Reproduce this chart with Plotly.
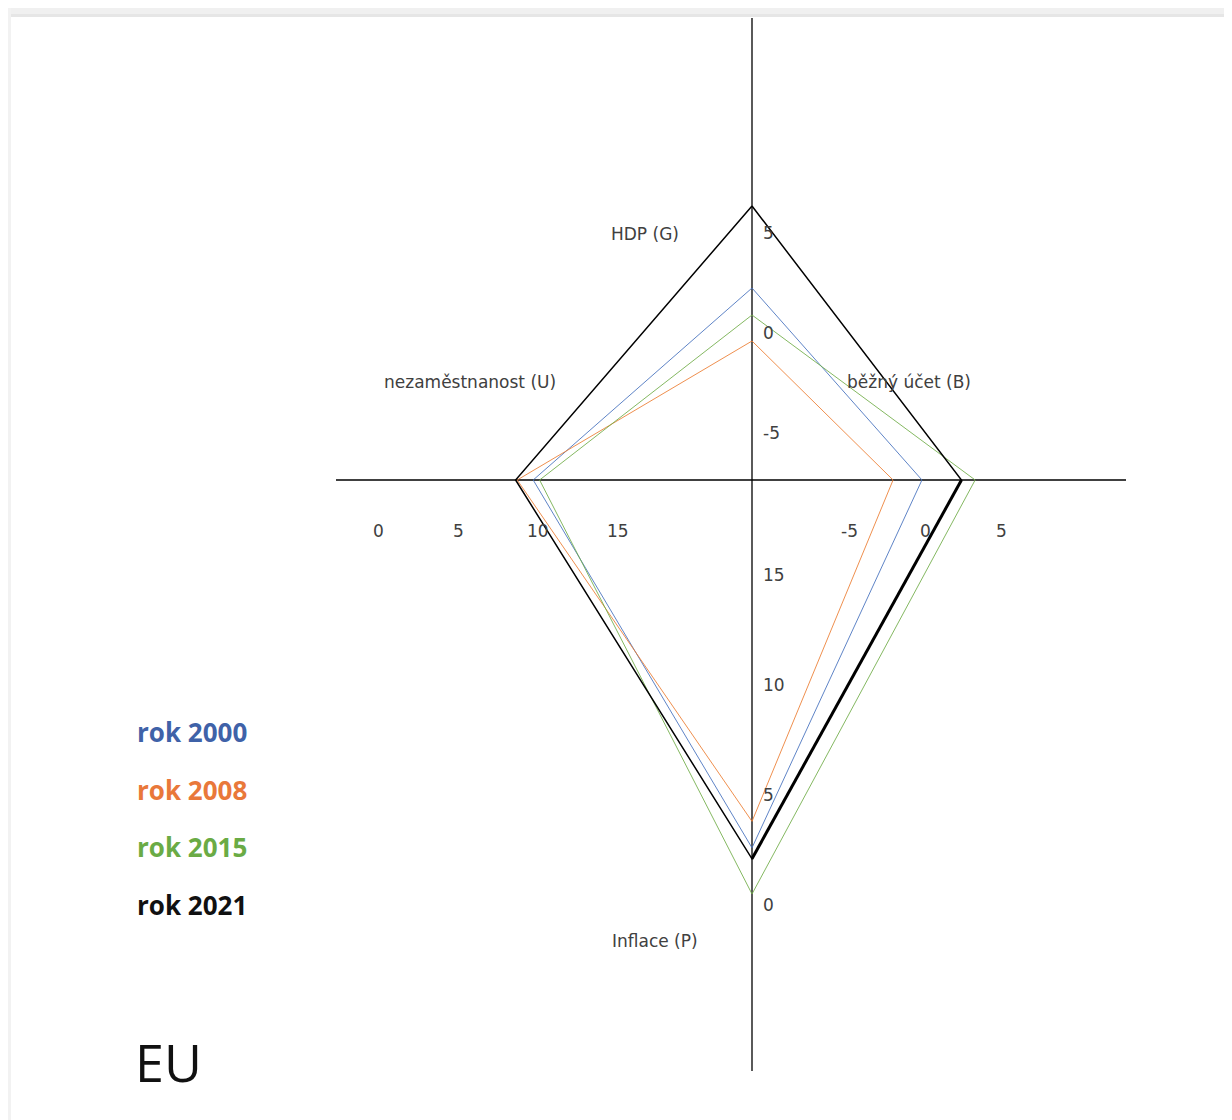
"""Magický čtyřúhelník EU - four years on four separate axes (G, B, P, U)."""
import plotly.graph_objects as go

YEARS = ["rok 2000", "rok 2008", "rok 2015", "rok 2021"]
COLORS = ["#4470BE", "#ED7D31", "#70AD47", "#000000"]
LABEL_COLORS = ["#3F62A8", "#E9783A", "#6AAB45", "#111111"]

# values
HDP_G = [2.25, -0.4, 0.9, 6.35]        # growth of GDP, %
UCET_B = [-0.2, -2.1, 3.3, 2.4]        # current account, % GDP
INFLACE_P = [2.6, 3.8, 0.5, 2.1]       # inflation, %
NEZAM_U = [9.7, 8.7, 10.1, 8.6]        # unemployment, %

G_TICKS = [5, 0, -5]
B_TICKS = [-5, 0, 5]
P_TICKS = [15, 10, 5, 0]
U_TICKS = [0, 5, 10, 15]

W, H = 1232, 1120
OFF = 8             # page body margin, so data units equal page pixels
CX, CY = 752, 480   # crossing of the axes


# each half-axis has its own linear scale, all drawn in one frame
def g_y(v):
    return 333 - 20.0 * v


def b_x(v):
    return 925 + 15.2 * v


def p_y(v):
    return 905 - 22.0 * v


def u_x(v):
    return 378 + 16.0 * v


fig = go.Figure()

for i, (name, color) in enumerate(zip(YEARS, COLORS)):
    xs = [CX, b_x(UCET_B[i]), CX, u_x(NEZAM_U[i]), CX]
    ys = [g_y(HDP_G[i]), CY, p_y(INFLACE_P[i]), CY, g_y(HDP_G[i])]
    fig.add_trace(go.Scatter(
        x=xs, y=ys, mode="lines", name=name,
        line=dict(color=color, width=1.5 if color == "#000000" else 1),
        opacity=1 if color == "#000000" else 0.85,
        showlegend=False, hoverinfo="skip",
    ))

# the 2021 P-B edge is drawn heavier in the original
fig.add_trace(go.Scatter(
    x=[CX, b_x(UCET_B[3])], y=[p_y(INFLACE_P[3]), CY], mode="lines",
    line=dict(color="#000000", width=3), showlegend=False, hoverinfo="skip",
))

# axes
fig.add_shape(type="line", x0=CX, x1=CX, y0=18, y1=1071,
              line=dict(color="#000000", width=1.3), layer="below")
fig.add_shape(type="line", x0=336, x1=1126, y0=CY, y1=CY,
              line=dict(color="#000000", width=1.3), layer="below")

# document strip at the top
fig.add_shape(type="rect", x0=OFF, x1=W + OFF, y0=OFF, y1=17,
              fillcolor="#f0f0f0", line=dict(width=0), layer="below")
fig.add_shape(type="rect", x0=OFF, x1=W + OFF, y0=14, y1=17,
              fillcolor="#e6e6e6", line=dict(width=0), layer="below")
fig.add_shape(type="rect", x0=OFF, x1=OFF + 3, y0=OFF, y1=H + OFF,
              fillcolor="#f2f2f2", line=dict(width=0), layer="below")

TICK_FONT = dict(family="DejaVu Sans, sans-serif", size=17, color="#404040")
TITLE_FONT = dict(family="DejaVu Sans, sans-serif", size=17, color="#404040")

for t in G_TICKS:
    fig.add_annotation(x=CX + 9, y=g_y(t), text=str(t), showarrow=False,
                       xanchor="left", font=TICK_FONT)
for t in P_TICKS:
    fig.add_annotation(x=CX + 9, y=p_y(t), text=str(t), showarrow=False,
                       xanchor="left", font=TICK_FONT)
for t in B_TICKS:
    fig.add_annotation(x=b_x(t), y=531, text=str(t), showarrow=False, font=TICK_FONT)
for t in U_TICKS:
    fig.add_annotation(x=u_x(t), y=531, text=str(t), showarrow=False, font=TICK_FONT)

AXIS_TITLES = [
    ("HDP (G)", 645, 234),
    ("nezaměstnanost (U)", 470, 382),
    ("běžný účet (B)", 909, 382),
    ("Inflace (P)", 655, 941),
]
for text, x, y in AXIS_TITLES:
    fig.add_annotation(x=x, y=y, text=text, showarrow=False, font=TITLE_FONT)

for i, (name, color) in enumerate(zip(YEARS, LABEL_COLORS)):
    fig.add_annotation(
        x=135, y=732 + 57.5 * i, text=f"<b>{name}</b>", showarrow=False, xanchor="left",
        font=dict(family="Open Sans, Noto Sans, sans-serif", size=26, color=color),
    )

fig.add_annotation(x=133, y=1061, text="EU", showarrow=False, xanchor="left",
                   font=dict(family="Open Sans, Noto Sans, sans-serif", size=52, color="#111111"))

fig.update_layout(
    width=W, height=H,
    margin=dict(l=0, r=0, t=0, b=0),
    paper_bgcolor="#ffffff", plot_bgcolor="#ffffff",
    xaxis=dict(range=[OFF, W + OFF], visible=False, fixedrange=True),
    yaxis=dict(range=[H + OFF, OFF], visible=False, fixedrange=True),
    showlegend=False,
)

fig.write_html("out.html")
